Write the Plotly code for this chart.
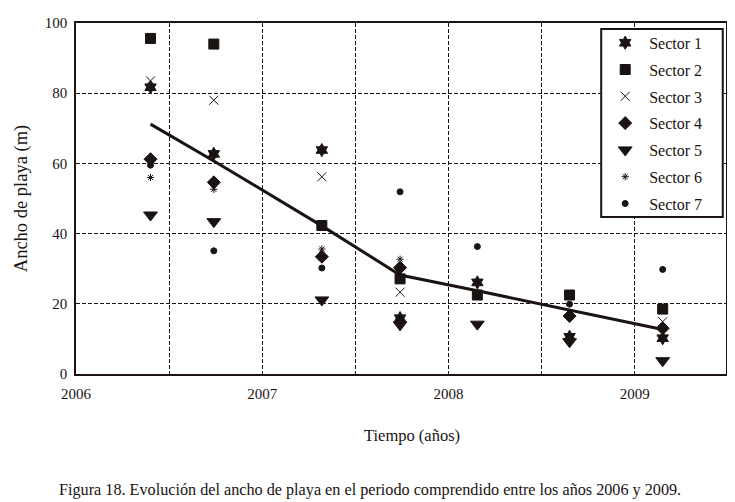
import plotly.graph_objects as go

# Survey dates (decimal years)
years = [2006.40, 2006.74, 2007.32, 2007.74, 2008.155, 2008.65, 2009.15]

# Beach width (m) per sector
sector1 = [81.7, 62.7, 63.8, 15.9, 26.1, 10.6, 10.2]
sector2 = [95.6, 94.0, 42.3, 27.1, 22.5, 22.5, 18.5]
sector3 = [83.5, 78.0, 56.2, 23.3, None, None, 14.9]
sector4 = [61.2, 54.6, 33.4, 30.3, None, 16.5, 13.0]
sector5 = [45.3, 43.4, 21.1, 14.0, 14.2, 9.2, 3.8]
sector6 = [56.0, 52.6, 35.6, 32.7, None, None, None]
sector7 = [59.5, 35.1, 30.2, 51.9, 36.3, 19.9, 29.8]

# Mean trend line
promedio = [71.2, 60.7, 42.2, 28.2, 23.7, 18.2, 12.7]

names = ["Sector 1", "Sector 2", "Sector 3", "Sector 4", "Sector 5", "Sector 6", "Sector 7"]
series = [sector1, sector2, sector3, sector4, sector5, sector6, sector7]
symbols = ["hexagram", "square", "x-thin-open", "diamond", "triangle-down", "asterisk-open", "circle"]
sizes = [10, 10, 9, 10, 12, 6, 6]

tick_vals = [2006, 2006.5, 2007, 2007.5, 2008, 2008.5, 2009]
tick_text = ["2006", "", "2007", "", "2008", "", "2009"]

FONT = "Liberation Serif, serif"
INK = "#1a1311"
DASH = "4px,2px"

fig = go.Figure()
fig.add_trace(go.Scatter(x=years, y=promedio, mode="lines",
                         line=dict(color=INK, width=3), showlegend=False))
for nm, vals, sym, sz in zip(names, series, symbols, sizes):
    fig.add_trace(go.Scatter(
        x=years, y=vals, mode="markers", name=nm, legendgroup=nm,
        marker=dict(symbol=sym, size=sz, color=INK,
                    line=dict(color=INK, width=1)),
    ))

fig.update_layout(
    width=727, height=494,
    margin=dict(l=68, r=7, t=15, b=128),
    paper_bgcolor="white", plot_bgcolor="white",
    font=dict(family=FONT, size=15, color=INK),
    showlegend=True,
    legend=dict(x=0.808, y=0.992, xanchor="left", yanchor="top",
                borderwidth=0, bgcolor="rgba(0,0,0,0)",
                font=dict(family=FONT, size=16, color=INK),
                tracegroupgap=3, itemwidth=38),
    # legend frame
    shapes=[dict(type="rect", xref="paper", yref="paper",
                 x0=0.808, x1=0.995, y0=0.4473, y1=0.983,
                 line=dict(color=INK, width=2), fillcolor="white",
                 layer="above")],
    xaxis=dict(range=[2006, 2009.49], tickvals=tick_vals, ticktext=tick_text,
               showgrid=True, gridcolor=INK, griddash=DASH, gridwidth=1,
               showline=True, mirror=True, linecolor=INK, linewidth=1.5,
               ticks="", zeroline=False, ticklabelstandoff=5,
               tickfont=dict(family=FONT, size=15)),
    yaxis=dict(range=[0, 100], dtick=20,
               showgrid=True, gridcolor=INK, griddash=DASH, gridwidth=1,
               showline=True, mirror=True, linecolor=INK, linewidth=1.5,
               ticks="", zeroline=False, ticklabelstandoff=4,
               tickfont=dict(family=FONT, size=15),
               title=dict(text="Ancho de playa (m)", standoff=12,
                          font=dict(family=FONT, size=18.5))),
    annotations=[
        dict(text="Tiempo (años)", xref="paper", yref="paper",
             x=0.517, y=-0.1766, xanchor="center", yanchor="middle",
             showarrow=False, font=dict(family=FONT, size=16.5, color=INK)),
        dict(text="Figura 18. Evolución del ancho de playa en el periodo comprendido entre los años 2006 y 2009.",
             xref="paper", yref="paper", x=0.452, y=-0.330,
             xanchor="center", yanchor="middle", showarrow=False,
             font=dict(family=FONT, size=16.2, color=INK)),
    ],
)

fig.write_html("out.html")
